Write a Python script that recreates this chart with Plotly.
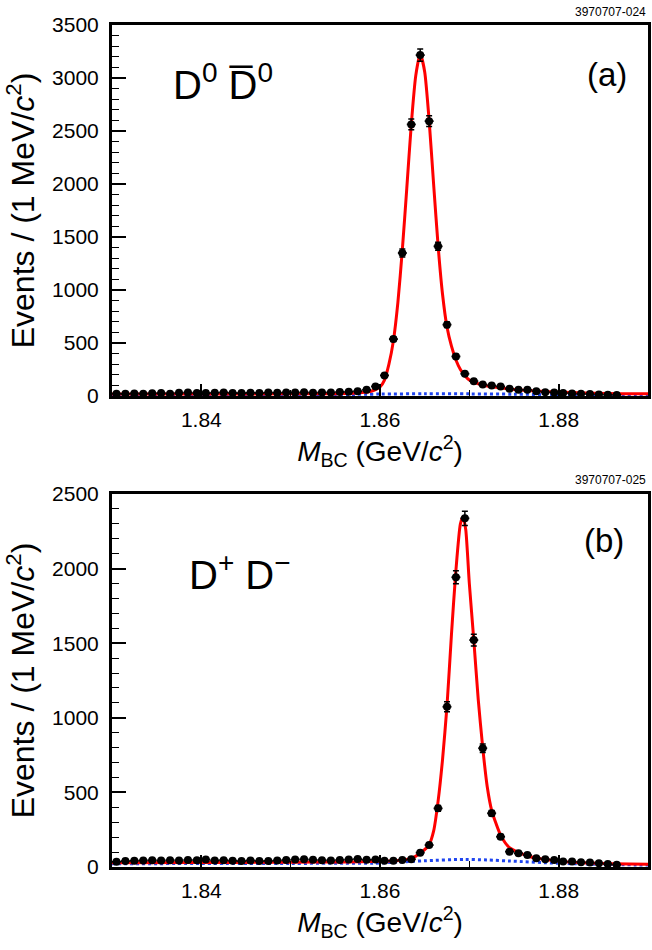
import plotly.graph_objects as go

# ---------------- data ----------------
bin_centers = [
    1.8305, 1.8315, 1.8325, 1.8335, 1.8345, 1.8355, 1.8365, 1.8375, 1.8385, 1.8395,
    1.8405, 1.8415, 1.8425, 1.8435, 1.8445, 1.8455, 1.8465, 1.8475, 1.8485, 1.8495,
    1.8505, 1.8515, 1.8525, 1.8535, 1.8545, 1.8555, 1.8565, 1.8575, 1.8585, 1.8595,
    1.8605, 1.8615, 1.8625, 1.8635, 1.8645, 1.8655, 1.8665, 1.8675, 1.8685, 1.8695,
    1.8705, 1.8715, 1.8725, 1.8735, 1.8745, 1.8755, 1.8765, 1.8775, 1.8785, 1.8795,
    1.8805, 1.8815, 1.8825, 1.8835, 1.8845, 1.8855, 1.8865,
]

d0_counts = [
    22, 20, 24, 22, 25, 27, 22, 30, 33, 28,
    27, 30, 34, 28, 27, 30, 28, 32, 30, 34,
    32, 36, 30, 34, 33, 38, 40, 45, 58, 90,
    194, 537, 1349, 2562, 3216, 2593, 1412, 673, 373, 210,
    140, 109, 99, 90, 68, 58, 58, 45, 36, 33,
    28, 24, 20, 18, 15, 12, 10,
]
d0_errors = [
    5, 4, 5, 5, 5, 5, 5, 5, 6, 5,
    5, 5, 6, 5, 5, 5, 5, 6, 5, 6,
    6, 6, 5, 6, 6, 6, 6, 7, 8, 9,
    14, 23, 37, 51, 57, 51, 38, 26, 19, 14,
    12, 10, 10, 9, 8, 8, 8, 7, 6, 6,
    5, 5, 4, 4, 4, 3, 3,
]

dp_counts = [
    35, 40, 42, 44, 45, 43, 46, 44, 47, 46,
    50, 44, 46, 42, 40, 44, 40, 41, 44, 47,
    50, 52, 48, 46, 44, 47, 50, 53, 48, 50,
    42, 42, 47, 52, 96, 147, 393, 1074, 1942, 2337,
    1521, 796, 360, 203, 103, 92, 80, 58, 52, 47,
    36, 36, 32, 30, 25, 20, 15,
]
dp_errors = [
    6, 6, 6, 7, 7, 7, 7, 7, 7, 7,
    7, 7, 7, 6, 6, 7, 6, 6, 7, 7,
    7, 7, 7, 7, 7, 7, 7, 7, 7, 7,
    6, 6, 7, 7, 10, 12, 20, 33, 44, 48,
    39, 28, 19, 14, 10, 10, 9, 8, 7, 7,
    6, 6, 6, 5, 5, 4, 4,
]

# fit curves
d0_fit_x = [1.8300, 1.8400, 1.8500, 1.8550, 1.8570, 1.8580, 1.8590, 1.8595, 1.8600, 1.8605,
            1.8610, 1.8615, 1.8620, 1.8625, 1.8630, 1.8635, 1.8640, 1.8645, 1.8650, 1.8655,
            1.8660, 1.8665, 1.8670, 1.8675, 1.8680, 1.8685, 1.8690, 1.8695, 1.8700, 1.8710,
            1.8720, 1.8730, 1.8750, 1.8770, 1.8790, 1.8815, 1.8840, 1.8870, 1.8900]
d0_fit_y = [18, 19, 20, 22, 26, 32, 45, 60, 85, 150,
            300, 520, 880, 1380, 1960, 2560, 3020, 3230, 3060, 2600,
            2000, 1420, 960, 650, 470, 340, 250, 190, 150, 115,
            95, 82, 62, 50, 41, 32, 26, 22, 20]
d0_bkg_x = [1.830, 1.840, 1.850, 1.855, 1.860, 1.865, 1.870, 1.875, 1.880, 1.885, 1.890]
d0_bkg_y = [8, 9, 11, 13, 18, 21, 20, 17, 12, 7, 5]

dp_fit_x = [1.8300, 1.8400, 1.8500, 1.8560, 1.8600, 1.8620, 1.8635, 1.8645, 1.8655, 1.8660,
            1.8665, 1.8670, 1.8675, 1.8680, 1.8685, 1.8690, 1.8693, 1.8696, 1.8700, 1.8705,
            1.8710, 1.8715, 1.8720, 1.8725, 1.8735, 1.8745, 1.8765, 1.8785, 1.8805, 1.8825,
            1.8860, 1.8900]
dp_fit_y = [28, 30, 32, 34, 38, 44, 58, 92, 150, 240,
            440, 720, 1080, 1560, 1990, 2300, 2348, 2260, 1900, 1521,
            1120, 800, 540, 380, 214, 130, 74, 50, 36, 29,
            22, 18]
dp_bkg_x = [1.830, 1.840, 1.850, 1.856, 1.8593, 1.862, 1.865, 1.8694, 1.872, 1.8746, 1.880, 1.885, 1.890]
dp_bkg_y = [22, 23, 24, 25, 25, 33, 42, 51, 47, 40, 25, 17, 13]

x_tick_vals = [1.84, 1.86, 1.88]
x_tick_text = ["1.84", "1.86", "1.88"]

# ---------------- figure ----------------
FONT = "Liberation Sans, Arial, Helvetica, sans-serif"
RED = "#ff0000"
BLUE = "#1f45f0"

fig = go.Figure()


def add_panel(counts, errs, fx, fy, bx, by, xa, ya):
    fig.add_trace(go.Scatter(
        x=bx, y=by, mode="lines", line=dict(color=BLUE, width=3, dash="dot", shape="spline", smoothing=0.8),
        xaxis=xa, yaxis=ya, showlegend=False, hoverinfo="skip"))
    fig.add_trace(go.Scatter(
        x=fx, y=fy, mode="lines", line=dict(color=RED, width=3, shape="spline", smoothing=0.6),
        xaxis=xa, yaxis=ya, showlegend=False))
    fig.add_trace(go.Scatter(
        x=bin_centers, y=counts, mode="markers",
        marker=dict(color="black", size=8, symbol="circle"),
        error_y=dict(type="data", array=errs, visible=True, color="black", thickness=1.5, width=3),
        error_x=dict(type="constant", value=0.0005, visible=True, color="black", thickness=1.8, width=0),
        xaxis=xa, yaxis=ya, showlegend=False))


add_panel(d0_counts, d0_errors, d0_fit_x, d0_fit_y, d0_bkg_x, d0_bkg_y, "x2", "y2")
add_panel(dp_counts, dp_errors, dp_fit_x, dp_fit_y, dp_bkg_x, dp_bkg_y, "x", "y")

xaxis_common = dict(
    range=[1.83, 1.89], tickvals=x_tick_vals, ticktext=x_tick_text,
    ticks="inside", ticklen=12, tickwidth=1.5, tickcolor="black",
    minor=dict(dtick=0.01, tick0=1.83, ticks="inside", ticklen=6, tickwidth=1.2, tickcolor="black"),
    showline=True, linewidth=3, linecolor="black", mirror=True,
    showgrid=False, zeroline=False,
    tickfont=dict(family=FONT, size=21, color="black"),
    ticklabelstandoff=3,
    title=dict(text="<i>M</i><sub>BC</sub> (GeV/<i>c</i><sup>2</sup>)",
               font=dict(family=FONT, size=28, color="black"), standoff=6),
)
yaxis_common = dict(
    ticks="inside", ticklen=14, tickwidth=1.5, tickcolor="black",
    minor=dict(dtick=100, ticks="inside", ticklen=7, tickwidth=1.2, tickcolor="black"),
    showline=True, linewidth=3, linecolor="black", mirror=True,
    showgrid=False, zeroline=False,
    tickfont=dict(family=FONT, size=21, color="black"),
    ticklabelstandoff=6,
    title=dict(text="Events / (1 MeV/<i>c</i><sup>2</sup>)",
               font=dict(family=FONT, size=32, color="black"), standoff=8),
)

TOP_DOM = [0.5594, 1.0]
BOT_DOM = [0.0, 0.4430]

fig.update_layout(
    width=652, height=950,
    margin=dict(l=112, r=1, t=25, b=83),
    plot_bgcolor="white", paper_bgcolor="white",
    font=dict(family=FONT, color="black"),
    xaxis=dict(**xaxis_common, anchor="y", domain=[0, 1]),
    yaxis=dict(**yaxis_common, anchor="x", domain=BOT_DOM, range=[0, 2500], dtick=500),
    xaxis2=dict(**xaxis_common, anchor="y2", domain=[0, 1]),
    yaxis2=dict(**yaxis_common, anchor="x2", domain=TOP_DOM, range=[0, 3500], dtick=500),
)

ann = [
    dict(text="D<sup>0</sup> D\u0305<sup>0</sup>", x=0.111, y=0.932, xanchor="left", yanchor="middle",
         font=dict(family=FONT, size=40, color="black")),
    dict(text="(a)", x=0.924, y=0.9418, xanchor="center", yanchor="middle",
         font=dict(family=FONT, size=33, color="black")),
    dict(text="D<sup>+</sup> D<sup>\u2212</sup>", x=0.139, y=0.350, xanchor="left", yanchor="middle",
         font=dict(family=FONT, size=40, color="black")),
    dict(text="(b)", x=0.918, y=0.3872, xanchor="center", yanchor="middle",
         font=dict(family=FONT, size=33, color="black")),
    dict(text="3970707-024", x=1.0, y=1.0154, xanchor="right", yanchor="middle",
         font=dict(family=FONT, size=12, color="black")),
    dict(text="3970707-025", x=1.0, y=0.4596, xanchor="right", yanchor="middle",
         font=dict(family=FONT, size=12, color="black")),
]
for a in ann:
    fig.add_annotation(xref="paper", yref="paper", showarrow=False, **a)

fig.write_html("out.html")
